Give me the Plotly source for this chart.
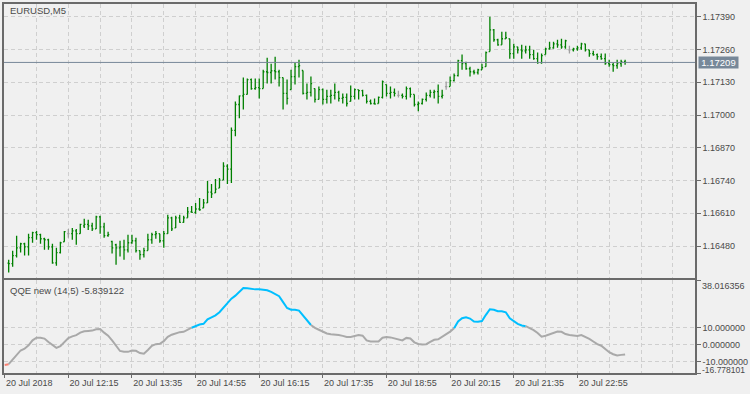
import pandas as pd
import plotly.graph_objects as go

symbol_title = "EURUSD,M5"
indicator_name = "QQE new (14,5)"
bar_start = "2018-07-20 11:00"
qqe_start = "2018-07-20 10:55"

open_ = [
    1.16412, 1.16410, 1.16442, 1.16473, 1.16489, 1.16477, 1.16513, 1.16533, 1.16525, 1.16509,
    1.16505, 1.16477, 1.16413, 1.16454, 1.16497, 1.16529, 1.16529, 1.16540, 1.16529, 1.16560,
    1.16566, 1.16560, 1.16548, 1.16596, 1.16556, 1.16521, 1.16498, 1.16485, 1.16473, 1.16477,
    1.16465, 1.16493, 1.16501, 1.16462, 1.16446, 1.16462, 1.16505, 1.16525, 1.16529, 1.16501,
    1.16529, 1.16592, 1.16552, 1.16592, 1.16574, 1.16592, 1.16616, 1.16614, 1.16627, 1.16631,
    1.16651, 1.16694, 1.16691, 1.16710, 1.16742, 1.16797, 1.16785, 1.16939, 1.17042, 1.17076,
    1.17082, 1.17141, 1.17105, 1.17109, 1.17105, 1.17172, 1.17169, 1.17176, 1.17172, 1.17149,
    1.17086, 1.17101, 1.17153, 1.17192, 1.17177, 1.17086, 1.17090, 1.17105, 1.17062, 1.17101,
    1.17062, 1.17074, 1.17078, 1.17090, 1.17066, 1.17070, 1.17054, 1.17074, 1.17101, 1.17097,
    1.17078, 1.17054, 1.17046, 1.17046, 1.17070, 1.17121, 1.17086, 1.17090, 1.17078, 1.17078,
    1.17074, 1.17105, 1.17082, 1.17042, 1.17046, 1.17062, 1.17078, 1.17090, 1.17093, 1.17074,
    1.17113, 1.17113, 1.17137, 1.17157, 1.17216, 1.17204, 1.17184, 1.17172, 1.17169, 1.17180,
    1.17192, 1.17252, 1.17338, 1.17299, 1.17279, 1.17303, 1.17303, 1.17244, 1.17271, 1.17259,
    1.17255, 1.17259, 1.17240, 1.17224, 1.17208, 1.17240, 1.17263, 1.17267, 1.17283, 1.17279,
    1.17271, 1.17259, 1.17259, 1.17263, 1.17267, 1.17283, 1.17259, 1.17244, 1.17240, 1.17232,
    1.17224, 1.17204, 1.17200, 1.17196, 1.17204, 1.17212,
]
high = [
    1.16426, 1.16461, 1.16521, 1.16493, 1.16493, 1.16529, 1.16537, 1.16540, 1.16529, 1.16513,
    1.16509, 1.16489, 1.16473, 1.16497, 1.16540, 1.16548, 1.16552, 1.16548, 1.16568, 1.16588,
    1.16584, 1.16572, 1.16600, 1.16600, 1.16572, 1.16537, 1.16501, 1.16489, 1.16501, 1.16505,
    1.16525, 1.16525, 1.16513, 1.16462, 1.16473, 1.16529, 1.16533, 1.16540, 1.16529, 1.16540,
    1.16604, 1.16596, 1.16600, 1.16604, 1.16600, 1.16635, 1.16639, 1.16651, 1.16671, 1.16667,
    1.16738, 1.16726, 1.16746, 1.16750, 1.16813, 1.16805, 1.16951, 1.17054, 1.17078, 1.17149,
    1.17145, 1.17145, 1.17145, 1.17145, 1.17180, 1.17228, 1.17204, 1.17232, 1.17180, 1.17149,
    1.17141, 1.17180, 1.17208, 1.17220, 1.17177, 1.17125, 1.17153, 1.17105, 1.17113, 1.17105,
    1.17101, 1.17101, 1.17125, 1.17097, 1.17086, 1.17086, 1.17117, 1.17105, 1.17101, 1.17101,
    1.17082, 1.17062, 1.17066, 1.17074, 1.17137, 1.17121, 1.17113, 1.17105, 1.17097, 1.17086,
    1.17113, 1.17109, 1.17082, 1.17054, 1.17066, 1.17090, 1.17101, 1.17101, 1.17121, 1.17101,
    1.17133, 1.17153, 1.17165, 1.17220, 1.17240, 1.17212, 1.17192, 1.17180, 1.17184, 1.17204,
    1.17252, 1.17390, 1.17342, 1.17303, 1.17331, 1.17331, 1.17303, 1.17283, 1.17271, 1.17279,
    1.17275, 1.17275, 1.17259, 1.17248, 1.17244, 1.17267, 1.17291, 1.17291, 1.17299, 1.17303,
    1.17299, 1.17275, 1.17267, 1.17275, 1.17287, 1.17283, 1.17259, 1.17255, 1.17244, 1.17244,
    1.17244, 1.17220, 1.17208, 1.17220, 1.17220, 1.17220,
]
low = [
    1.16375, 1.16398, 1.16434, 1.16454, 1.16442, 1.16442, 1.16493, 1.16505, 1.16489, 1.16465,
    1.16465, 1.16410, 1.16402, 1.16450, 1.16497, 1.16513, 1.16505, 1.16485, 1.16529, 1.16552,
    1.16544, 1.16540, 1.16548, 1.16529, 1.16513, 1.16517, 1.16450, 1.16406, 1.16438, 1.16426,
    1.16454, 1.16489, 1.16454, 1.16426, 1.16434, 1.16462, 1.16489, 1.16509, 1.16493, 1.16473,
    1.16529, 1.16540, 1.16552, 1.16572, 1.16572, 1.16592, 1.16612, 1.16608, 1.16620, 1.16631,
    1.16651, 1.16671, 1.16691, 1.16710, 1.16742, 1.16726, 1.16730, 1.16916, 1.16987, 1.17022,
    1.17082, 1.17101, 1.17101, 1.17066, 1.17105, 1.17125, 1.17125, 1.17141, 1.17113, 1.17022,
    1.17042, 1.17101, 1.17121, 1.17149, 1.17082, 1.17062, 1.17074, 1.17050, 1.17062, 1.17042,
    1.17046, 1.17046, 1.17062, 1.17054, 1.17046, 1.17034, 1.17054, 1.17062, 1.17062, 1.17074,
    1.17046, 1.17042, 1.17042, 1.17046, 1.17066, 1.17074, 1.17066, 1.17074, 1.17070, 1.17066,
    1.17062, 1.17070, 1.17034, 1.17015, 1.17042, 1.17054, 1.17070, 1.17066, 1.17046, 1.17066,
    1.17101, 1.17113, 1.17133, 1.17153, 1.17180, 1.17180, 1.17153, 1.17161, 1.17161, 1.17180,
    1.17192, 1.17252, 1.17291, 1.17275, 1.17279, 1.17303, 1.17224, 1.17224, 1.17244, 1.17224,
    1.17244, 1.17224, 1.17220, 1.17204, 1.17204, 1.17240, 1.17259, 1.17263, 1.17267, 1.17263,
    1.17263, 1.17244, 1.17252, 1.17255, 1.17259, 1.17252, 1.17232, 1.17236, 1.17220, 1.17220,
    1.17200, 1.17192, 1.17172, 1.17184, 1.17192, 1.17200,
]
close = [
    1.16410, 1.16442, 1.16473, 1.16489, 1.16477, 1.16513, 1.16533, 1.16525, 1.16509, 1.16505,
    1.16477, 1.16413, 1.16454, 1.16493, 1.16537, 1.16529, 1.16540, 1.16529, 1.16566, 1.16566,
    1.16560, 1.16548, 1.16596, 1.16556, 1.16521, 1.16525, 1.16473, 1.16473, 1.16477, 1.16465,
    1.16493, 1.16501, 1.16462, 1.16446, 1.16462, 1.16505, 1.16525, 1.16529, 1.16501, 1.16529,
    1.16592, 1.16548, 1.16592, 1.16574, 1.16592, 1.16616, 1.16614, 1.16627, 1.16624, 1.16651,
    1.16694, 1.16687, 1.16706, 1.16742, 1.16797, 1.16785, 1.16939, 1.17042, 1.17076, 1.17082,
    1.17141, 1.17105, 1.17109, 1.17105, 1.17172, 1.17169, 1.17176, 1.17172, 1.17149, 1.17086,
    1.17066, 1.17153, 1.17192, 1.17196, 1.17086, 1.17090, 1.17125, 1.17062, 1.17101, 1.17062,
    1.17074, 1.17078, 1.17090, 1.17066, 1.17070, 1.17046, 1.17074, 1.17101, 1.17097, 1.17078,
    1.17054, 1.17046, 1.17044, 1.17070, 1.17133, 1.17086, 1.17090, 1.17086, 1.17078, 1.17074,
    1.17105, 1.17082, 1.17042, 1.17046, 1.17062, 1.17078, 1.17090, 1.17093, 1.17074, 1.17078,
    1.17113, 1.17137, 1.17157, 1.17216, 1.17204, 1.17184, 1.17172, 1.17169, 1.17180, 1.17188,
    1.17248, 1.17338, 1.17299, 1.17279, 1.17303, 1.17307, 1.17244, 1.17271, 1.17259, 1.17255,
    1.17259, 1.17240, 1.17224, 1.17208, 1.17236, 1.17263, 1.17267, 1.17283, 1.17279, 1.17271,
    1.17295, 1.17259, 1.17263, 1.17267, 1.17283, 1.17259, 1.17244, 1.17240, 1.17232, 1.17224,
    1.17204, 1.17200, 1.17196, 1.17204, 1.17212, 1.17209,
]
qqe = [
    -12.0,
    -11.6, -9.0, -6.5, -3.5, -2.5, -0.5, 2.5, 4.0, 4.0, 3.5,
    1.5, -0.5, -2.0, -1.0, 1.5, 3.8, 4.8, 5.5, 7.0, 7.8,
    8.0, 8.2, 9.0, 9.2, 7.0, 5.2, 2.5, -0.5, -3.8, -4.3,
    -4.3, -3.5, -3.7, -5.0, -5.4, -3.2, -0.8, 0.2, 0.4, 2.0,
    4.5, 5.8, 6.5, 7.3, 7.5, 8.5, 9.9, 11.0, 11.8, 12.2,
    14.8, 16.0, 17.2, 19.0, 21.8, 24.2, 27.0, 28.8, 31.0, 33.3,
    33.2, 32.8, 32.5, 32.5, 32.4, 32.0, 31.0, 29.8, 28.5, 25.0,
    21.5, 20.5, 20.5, 20.0, 17.0, 14.5, 11.5, 9.8, 8.7, 7.5,
    6.5, 6.1, 6.0, 5.6, 5.1, 4.5, 4.4, 5.0, 5.6, 5.2,
    2.4, 1.8, 1.6, 1.8, 4.0, 4.4, 4.2, 3.7, 3.1, 2.4,
    3.9, 3.6, 1.3, 0.3, 0.0, 0.2, 1.6, 2.8, 3.1, 4.5,
    5.8, 7.6, 9.6, 13.6, 15.5, 16.0, 15.3, 13.6, 13.4, 13.8,
    17.5, 20.8, 20.5, 19.6, 19.6, 19.0, 15.5, 13.8, 12.2, 11.2,
    10.8, 9.8, 8.5, 6.8, 4.6, 5.2, 6.0, 7.0, 7.6, 7.5,
    6.2, 5.6, 5.4, 5.0, 5.6, 4.5, 3.3, 1.8, 0.2, -0.7,
    -2.8, -4.5, -5.7, -6.4, -6.1, -5.839122,
]
qqe_levels = [10, 0, -10]
qqe_top = 38.016356
qqe_bottom = -16.778101
price_ticks = [1.17390, 1.17260, 1.17130, 1.17000, 1.16870, 1.16740, 1.16610, 1.16480]
time_ticks = ["2018-07-20 10:55", "2018-07-20 12:15", "2018-07-20 13:35", "2018-07-20 14:55",
              "2018-07-20 16:15", "2018-07-20 17:35", "2018-07-20 18:55", "2018-07-20 20:15",
              "2018-07-20 21:35", "2018-07-20 22:55"]
time_labels = ["20 Jul 2018", "20 Jul 12:15", "20 Jul 13:35", "20 Jul 14:55", "20 Jul 16:15",
               "20 Jul 17:35", "20 Jul 18:55", "20 Jul 20:15", "20 Jul 21:35", "20 Jul 22:55"]

x_range = ["2018-07-20 10:54:07", "2018-07-21 01:22:52"]
price_range = [1.16353, 1.17441]

BG = "#f0f0f0"
GREEN = "#008000"
DOJI = "#a0a0a0"
GRID = "#cfcfcf"
BORDER = "#6a6a6a"
TXT = "#4a4a4a"
FONT = "Liberation Sans, Arial, sans-serif"

times = pd.date_range(bar_start, periods=len(close), freq="5min")
qqe_times = pd.date_range(qqe_start, periods=len(qqe), freq="5min")

df = pd.DataFrame({"t": times, "o": open_, "h": high, "l": low, "c": close})
norm = df[df.o != df.c]
doji = df[df.o == df.c]

fig = go.Figure()
for part, col in ((norm, GREEN), (doji, DOJI)):
    fig.add_trace(go.Ohlc(
        x=part.t, open=part.o, high=part.h, low=part.l, close=part.c,
        increasing=dict(line=dict(color=col, width=1.3)),
        decreasing=dict(line=dict(color=col, width=1.3)),
        tickwidth=0.3, xaxis="x", yaxis="y", showlegend=False, hoverinfo="skip"))


def seg_color(v):
    if v > 10:
        return "#00bfff"
    if v < -10:
        return "#fa8072"
    return "#a9a9a9"


runs = []
for i in range(1, len(qqe)):
    c = seg_color(qqe[i])
    if runs and runs[-1][0] == c and runs[-1][2] == i - 1:
        runs[-1][2] = i
    else:
        runs.append([c, i - 1, i])
for c, a, b in runs:
    fig.add_trace(go.Scatter(
        x=qqe_times[a:b + 1], y=qqe[a:b + 1], mode="lines",
        line=dict(color=c, width=2), xaxis="x2", yaxis="y2",
        showlegend=False, hoverinfo="skip"))

# current price line
fig.add_shape(type="line", xref="x domain", x0=0, x1=1, yref="y",
              y0=close[-1], y1=close[-1], line=dict(color="#778899", width=1))

minor = dict(dtick=40 * 60 * 1000, tick0=time_ticks[0], showgrid=True,
             gridcolor=GRID, griddash="4px,3px", gridwidth=1, ticks="")

common_x = dict(type="date", range=x_range, tickvals=time_ticks, showgrid=True,
                gridcolor=GRID, griddash="4px,3px", gridwidth=1, showline=True,
                mirror=True, linecolor=BORDER, linewidth=1.5, zeroline=False,
                minor=minor, rangeslider=dict(visible=False))

fig.update_layout(
    width=750, height=394,
    margin=dict(l=2, r=53, t=2, b=21),
    paper_bgcolor=BG, plot_bgcolor=BG,
    font=dict(family=FONT, size=9, color=TXT),
    xaxis=dict(common_x, anchor="y", showticklabels=False, ticks=""),
    xaxis2=dict(common_x, anchor="y2", matches="x", ticktext=time_labels,
                showticklabels=True, ticks="outside", ticklen=3, tickcolor=BORDER,
                ticklabelposition="outside right"),
    yaxis=dict(domain=[(373 - 277.5) / 371, 1], range=price_range, side="right",
               tickvals=price_ticks, ticktext=[f"{v:.5f}" for v in price_ticks],
               ticks="outside", ticklen=4, tickcolor=BORDER, showgrid=True,
               gridcolor=GRID, griddash="4px,3px", showline=True, mirror=True,
               linecolor=BORDER, linewidth=1.5, zeroline=False, anchor="x"),
    yaxis2=dict(domain=[0, (373 - 279.5) / 371], range=[qqe_bottom, qqe_top], side="right",
                tickvals=[qqe_top] + qqe_levels + [qqe_bottom],
                ticktext=[""] + [f"{v:.6f}" for v in qqe_levels] + [""],
                ticks="outside", ticklen=4, tickcolor=BORDER, showgrid=True,
                gridcolor=GRID, griddash="4px,3px", showline=True, mirror=True,
                linecolor=BORDER, linewidth=1.5, zeroline=False, anchor="x2"),
)

fig.add_annotation(xref="x domain", yref="y domain", x=0.006, y=0.975,
                   xanchor="left", yanchor="middle", text=symbol_title,
                   showarrow=False, font=dict(size=9.5, color=TXT))
fig.add_annotation(xref="x2 domain", yref="y2 domain", x=0.006, y=0.888,
                   xanchor="left", yanchor="middle",
                   text=f"{indicator_name} {qqe[-1]:.6f}",
                   showarrow=False, font=dict(size=9.5, color=TXT))
fig.add_annotation(xref="paper", yref="y", x=1.0043, y=close[-1], xanchor="left",
                   yanchor="middle", text=f"{close[-1]:.5f}", showarrow=False,
                   bgcolor="#778899", font=dict(size=9.5, color="white"),
                   width=37, height=9, borderpad=1)
fig.add_annotation(xref="paper", yref="y2", x=1.0086, y=qqe_top, xanchor="left",
                   yanchor="top", text=f"{qqe_top:.6f}", showarrow=False,
                   font=dict(size=9, color=TXT), borderpad=0)
fig.add_annotation(xref="paper", yref="y2", x=1.0086, y=qqe_bottom, xanchor="left",
                   yanchor="middle", text=f"{qqe_bottom:.6f}", showarrow=False,
                   font=dict(size=8.5, color=TXT), borderpad=0, yshift=3)

fig.write_html("out.html")
